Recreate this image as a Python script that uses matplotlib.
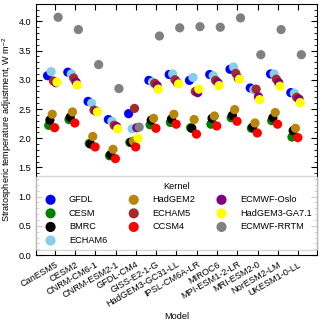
import numpy as np
import matplotlib
matplotlib.use("Agg")
import matplotlib.pyplot as plt
from matplotlib.ticker import AutoMinorLocator

plt.rcParams['font.family'] = ['Liberation Sans', 'DejaVu Sans']
plt.rcParams['mathtext.fontset'] = 'custom'
plt.rcParams['mathtext.rm'] = 'Liberation Sans'
plt.rcParams['mathtext.it'] = 'Liberation Sans:italic'

# --- Daten ---
models = ["CanESM5", "CESM2", "CNRM-CM6-1", "CNRM-ESM2-1", "GFDL-CM4", "GISS-E2-1-G",
          "HadGEM3-GC31-LL", "IPSL-CM6A-LR", "MIROC6", "MPI-ESM1-2-LR", "MRI-ESM2-0",
          "NorESM2-LM", "UKESM1-0-LL"]

kernels = ["GFDL", "CESM", "BMRC", "ECHAM6", "HadGEM2", "ECHAM5", "CCSM4",
           "ECMWF-Oslo", "HadGEM3-GA7.1", "ECMWF-RRTM"]
colors = ["blue", "green", "black", "skyblue", "darkgoldenrod", "brown", "red",
          "purple", "yellow", "grey"]

gfdl = [3.07, 3.13, 2.63, 2.32, 2.42, 2.99, 3.09, 2.99, 3.09, 3.18, 2.86, 3.10, 2.78]
cesm = [2.22, 2.32, 1.91, 1.70, 1.93, 2.23, 2.27, 2.18, 2.24, 2.35, 2.17, 2.30, 2.02]
bmrc = [2.31, 2.36, 1.90, 1.72, 1.93, 2.31, 2.33, 2.17, 2.34, 2.39, 2.19, 2.35, 2.13]
echam6 = [3.14, 3.10, 2.60, 2.29, 2.16, 2.96, 3.10, 3.04, 3.07, 3.22, 2.83, 3.10, 2.77]
hadgem2 = [2.41, 2.45, 2.03, 1.81, 1.95, 2.34, 2.41, 2.32, 2.38, 2.49, 2.26, 2.44, 2.17]
echam5 = [2.98, 3.03, 2.48, 2.22, 2.51, 2.94, 3.00, 2.80, 2.99, 3.11, 2.84, 3.01, 2.70]
ccsm4 = [2.18, 2.26, 1.85, 1.65, 1.85, 2.17, 2.24, 2.07, 2.21, 2.29, 2.09, 2.24, 2.01]
ecmwf_oslo = [2.95, 2.96, 2.46, 2.20, 2.18, 2.90, 2.95, 2.78, 2.95, 3.03, 2.71, 2.95, 2.67]
hadgem3 = [2.96, 2.91, 2.45, 2.16, 2.00, 2.84, 2.93, 2.84, 2.90, 3.01, 2.66, 2.89, 2.61]
ecmwf_rrtm = [4.07, 3.86, 3.26, 2.85, 2.19, 3.75, 3.89, 3.91, 3.90, 4.06, 3.43, 3.86, 3.43]

values = [gfdl, cesm, bmrc, echam6, hadgem2, echam5, ccsm4, ecmwf_oslo, hadgem3, ecmwf_rrtm]

# --- Plot ---
fig = plt.figure(figsize=(3.2, 3.22), dpi=100)
ax = fig.add_axes([0.1125, 0.208, 0.878, 0.78])

x = np.arange(len(models))
offsets = np.linspace(-0.36, 0.16, len(kernels))
for k, vals, col, off in zip(kernels, values, colors, offsets):
    ax.scatter(x + off, vals, s=44, color=col, edgecolors='none', label=k)

fs = 6.6
ax.set_xlim(-0.93, 12.93)
ax.set_ylim(0, 4.3)
ax.set_xticks(x)
ax.set_xticklabels(models, rotation=30, ha='right', rotation_mode='anchor', fontsize=fs)
ax.yaxis.set_minor_locator(AutoMinorLocator(5))
ax.tick_params(which='both', direction='in', top=True, right=True, labelsize=fs)
ax.tick_params(which='major', length=4)
ax.tick_params(which='minor', length=2)
ax.set_ylabel("Stratospheric temperature adjustment, W m$^{-2}$", fontsize=fs, labelpad=3)
ax.set_xlabel("Model", fontsize=fs, labelpad=2)

ax.legend(title="Kernel", ncol=3, loc='lower center', fontsize=fs, title_fontsize=fs,
          columnspacing=1.9, handletextpad=1.0, labelspacing=0.5, borderpad=0.6,
          markerscale=1.1)

fig.savefig("out.png", dpi=100)
plt.close()
